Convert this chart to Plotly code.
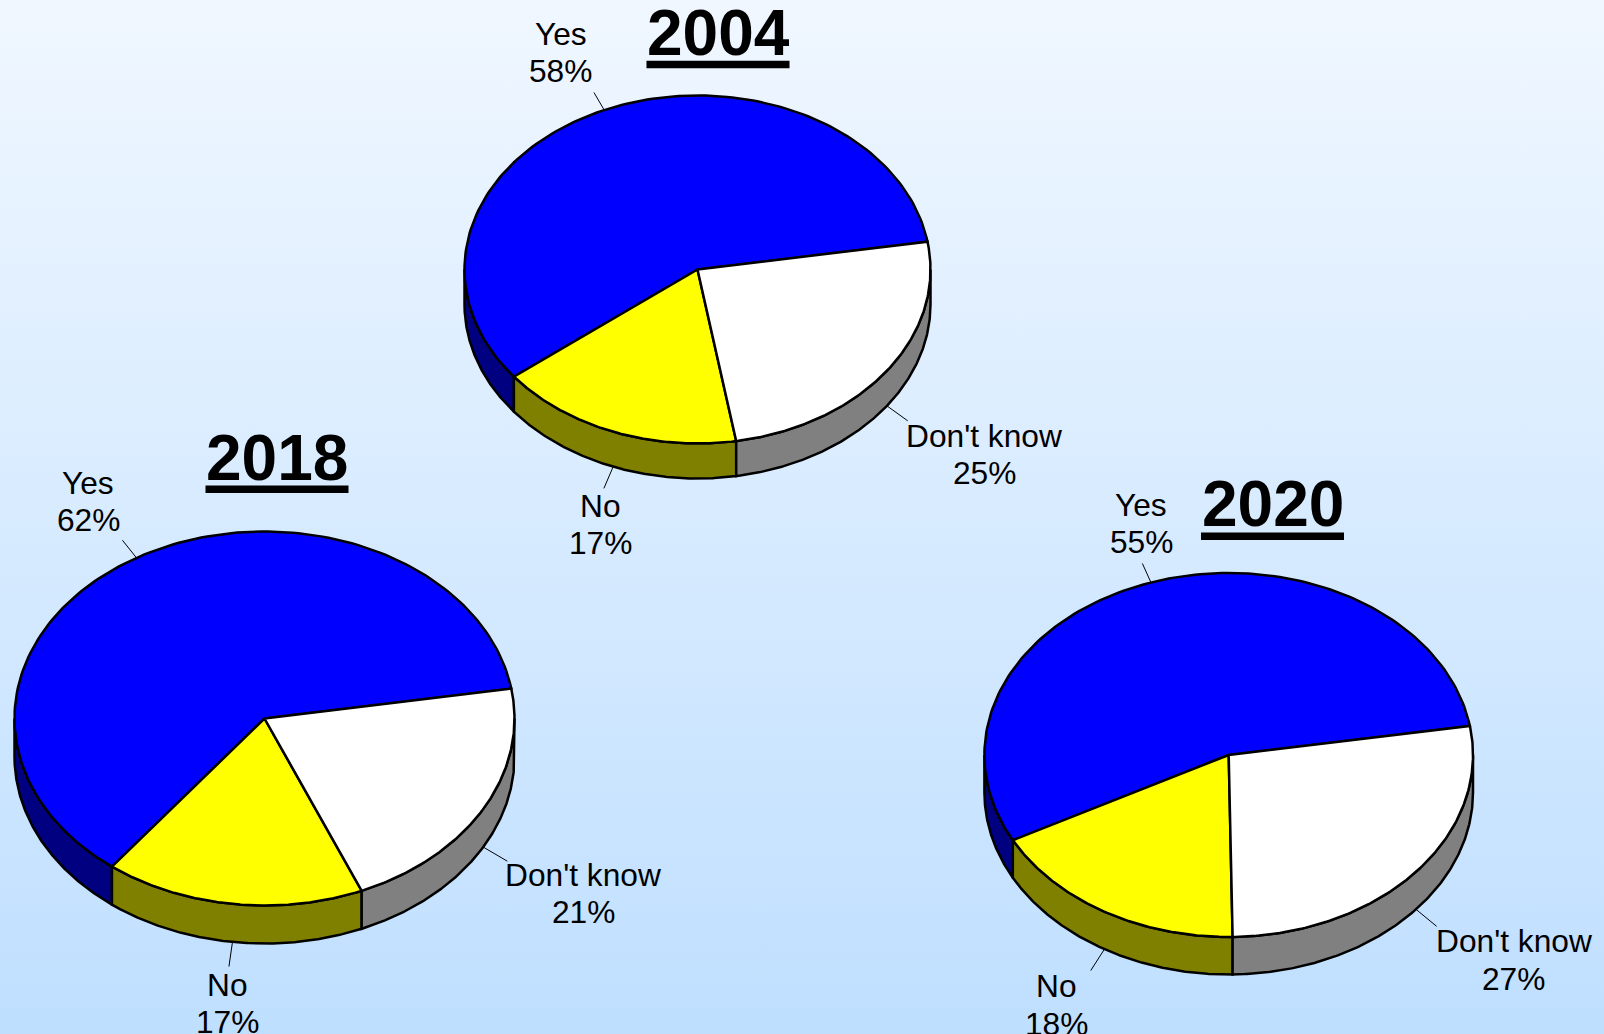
import numpy as np
import plotly.graph_objects as go

# ---- data ----
categories = ["Yes", "No", "Don't know"]
years = ["2004", "2018", "2020"]
values_2004 = [58, 17.1, 24.9]
values_2018 = [62, 16.8, 21.2]
values_2020 = [55.2, 17.5, 27.3]

# ---- geometry and style (pixels in the 1604x1034 page) ----
W, H = 1604, 1034
FIRST_ANGLE = 9.2
TOP_COLORS = ["#0000FF", "#FFFF00", "#FFFFFF"]
SIDE_COLORS = ["#000080", "#808000", "#808080"]
FONT = "Liberation Sans, Arial, sans-serif"
LABEL_SIZE = 31.7
LINE_GAP = 37.2
LEADER_K = 1.11
EDGE_WIDTH = 2.5
RULE_WIDTH = 143
RULE_THICK = 7.5

pies = {
    "2004": dict(values=values_2004, cx=697.5, cy=269.5, rx=233, ry=174, depth=35,
                 title=(718, 33), rule_y=64.5,
                 labels=[(560.6, 52.3), (600.5, 524.3), (984, 454.5)]),
    "2018": dict(values=values_2018, cx=264.5, cy=718.5, rx=250, ry=187, depth=38,
                 title=(277, 458), rule_y=489.3,
                 labels=[(88, 501.3), (227, 1003.3), (583, 893.5)]),
    "2020": dict(values=values_2020, cx=1228.7, cy=755, rx=244.3, ry=182, depth=37.5,
                 title=(1272.5, 504), rule_y=536.3,
                 labels=[(1141, 523.3), (1056.8, 1005), (1513.5, 960)]),
}

fig = go.Figure()

# background gradient
fig.add_trace(go.Scatter(
    x=[0, W, W, 0, 0], y=[0, 0, H, H, 0], mode="lines", fill="toself",
    line=dict(width=0), hoverinfo="skip",
    fillgradient=dict(type="vertical",
                      colorscale=[[0, "#BFDFFF"], [1, "#F0F7FF"]]),
))


def arc(p, a0, a1, n=160, drop=0.0):
    t = np.radians(np.linspace(a0, a1, n))
    return p["cx"] + p["rx"] * np.cos(t), p["cy"] - p["ry"] * np.sin(t) + drop


def poly(x, y, fill):
    fig.add_trace(go.Scatter(
        x=list(x), y=list(y), mode="lines", fill="toself", fillcolor=fill,
        line=dict(color="black", width=EDGE_WIDTH, shape="linear"),
        hoverinfo="skip"))


annotations = []
shapes = []
for year in years:
    p = pies[year]
    fracs = np.array(p["values"], dtype=float) / sum(p["values"])
    edges = FIRST_ANGLE + np.concatenate([[0], np.cumsum(fracs) * 360])
    d = p["depth"]

    # leaders go underneath everything
    for i, cat in enumerate(categories):
        mid = (edges[i] + edges[i + 1]) / 2
        drop = d if np.sin(np.radians(mid)) < 0 else 0
        x0 = p["rx"] * np.cos(np.radians(mid))
        y0 = -p["ry"] * np.sin(np.radians(mid)) + drop
        fig.add_trace(go.Scatter(
            x=[p["cx"] + x0, p["cx"] + x0 * LEADER_K],
            y=[p["cy"] + y0, p["cy"] + y0 * LEADER_K],
            mode="lines", line=dict(color="black", width=1), hoverinfo="skip"))
        lx, ly = p["labels"][i]
        for text, yy in ((cat, ly - LINE_GAP / 2), (f"{p['values'][i]:.0f}%", ly + LINE_GAP / 2)):
            annotations.append(dict(
                x=lx, y=yy, xref="x", yref="y", text=text, showarrow=False,
                xanchor="center", yanchor="middle",
                font=dict(family=FONT, size=LABEL_SIZE, color="black")))

    # side wall: the part of each slice facing the viewer (180..360 degrees)
    for i in range(3):
        lo = max(edges[i], 180)
        hi = min(edges[i + 1], 360)
        if hi <= lo:
            continue
        xt, yt = arc(p, lo, hi)
        xb, yb = arc(p, hi, lo, drop=d)
        poly(np.r_[xt, xb, xt[0]], np.r_[yt, yb, yt[0]], SIDE_COLORS[i])

    # top face
    for i in range(3):
        xa, ya = arc(p, edges[i], edges[i + 1])
        poly(np.r_[p["cx"], xa, p["cx"]], np.r_[p["cy"], ya, p["cy"]], TOP_COLORS[i])

    tx, ty = p["title"]
    annotations.append(dict(
        x=tx, y=ty, xref="x", yref="y", text=f"<b>{year}</b>", showarrow=False,
        xanchor="center", yanchor="middle",
        font=dict(family=FONT, size=64, color="black")))
    shapes.append(dict(
        type="rect", xref="x", yref="y", line=dict(width=0), fillcolor="black",
        x0=tx - RULE_WIDTH / 2, x1=tx + RULE_WIDTH / 2,
        y0=p["rule_y"] - RULE_THICK / 2, y1=p["rule_y"] + RULE_THICK / 2))

fig.update_layout(
    width=W, height=H, margin=dict(l=0, r=0, t=0, b=0), showlegend=False,
    paper_bgcolor="#D8EBFF", plot_bgcolor="rgba(0,0,0,0)",
    xaxis=dict(range=[0, W], visible=False, fixedrange=True),
    yaxis=dict(range=[H, 0], visible=False, fixedrange=True),
    annotations=annotations, shapes=shapes,
)
fig.write_html("out.html", config=dict(displayModeBar=False),
               post_script="document.body.style.margin='0';document.body.style.overflow='hidden';")
